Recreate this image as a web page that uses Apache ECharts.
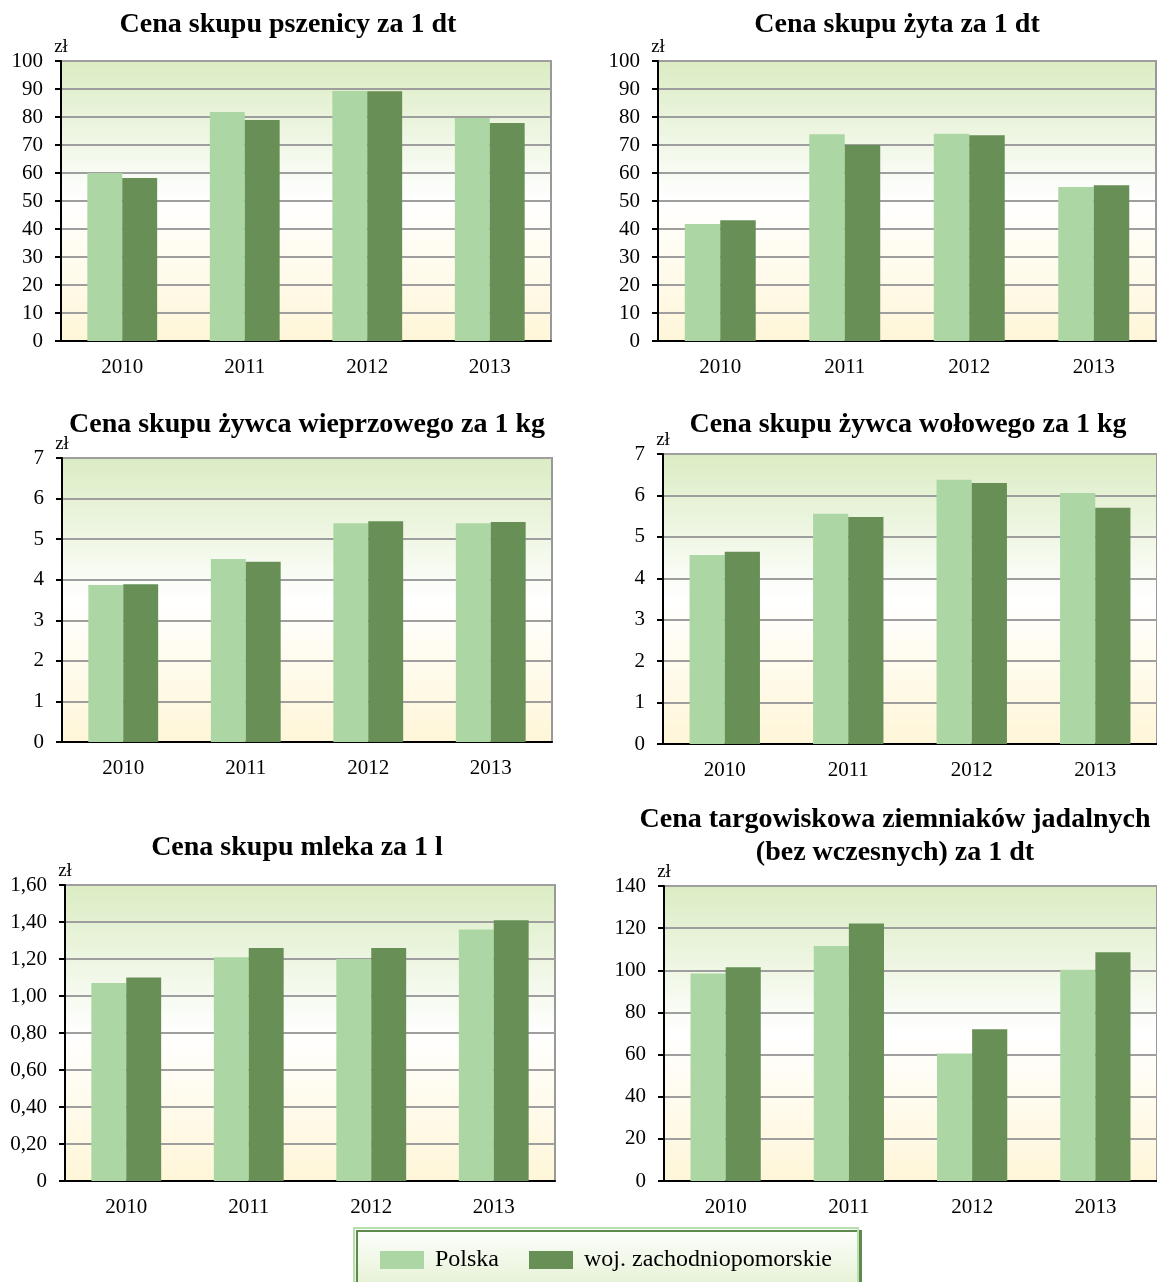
<!DOCTYPE html>
<html>
<head>
<meta charset="utf-8">
<script src="https://cdn.jsdelivr.net/npm/echarts@6/dist/echarts.min.js"></script>
<style>
  html, body { margin: 0; padding: 0; background: #fff; }
  #main { width: 1157px; height: 1282px; }
</style>
</head>
<body>
<div id="main"></div>
<script>
var years = ['2010', '2011', '2012', '2013'];
var seriesNames = ['Polska', 'woj. zachodniopomorskie'];

var titles = [
  'Cena skupu pszenicy za 1 dt',
  'Cena skupu żyta za 1 dt',
  'Cena skupu żywca wieprzowego za 1 kg',
  'Cena skupu żywca wołowego za 1 kg',
  'Cena skupu mleka za 1 l',
  'Cena targowiskowa ziemniaków jadalnych\n(bez wczesnych) za 1 dt'
];

// Polska / woj. zachodniopomorskie
var pszenicaPL = [60, 81.8, 89.3, 79.6];
var pszenicaZP = [58.2, 78.9, 89.2, 77.9];
var zytoPL = [41.8, 73.8, 74.0, 55.0];
var zytoZP = [43.1, 70.0, 73.5, 55.6];
var wieprzPL = [3.87, 4.51, 5.39, 5.39];
var wieprzZP = [3.89, 4.44, 5.44, 5.42];
var wolPL = [4.56, 5.56, 6.38, 6.06];
var wolZP = [4.64, 5.48, 6.30, 5.70];
var mlekoPL = [1.07, 1.21, 1.20, 1.36];
var mlekoZP = [1.10, 1.26, 1.26, 1.41];
var ziemniakiPL = [98.5, 111.5, 60.5, 100.3];
var ziemniakiZP = [101.5, 122.2, 72.0, 108.6];

var axisMax = [100, 100, 7, 7, 1.6, 140];
var axisStep = [10, 10, 1, 1, 0.2, 20];

var pairs = [
  [pszenicaPL, pszenicaZP], [zytoPL, zytoZP], [wieprzPL, wieprzZP],
  [wolPL, wolZP], [mlekoPL, mlekoZP], [ziemniakiPL, ziemniakiZP]
];

// layout of the six plot areas
var grids = [
  {left: 61, top: 61, width: 490, height: 280},
  {left: 658, top: 61, width: 498, height: 280},
  {left: 62, top: 458, width: 490, height: 284},
  {left: 663, top: 454, width: 494, height: 290},
  {left: 65, top: 885, width: 490, height: 296},
  {left: 664, top: 886, width: 493, height: 295}
];
var titlePos = [
  {left: 283, top: 3}, {left: 892, top: 3},
  {left: 302, top: 403}, {left: 903, top: 403},
  {left: 292, top: 826}, {left: 890, top: 798}
];

var colPL = '#acd7a4';
var colZP = '#678f56';
var font = 'Liberation Serif';

var option = {
  animation: false,
  textStyle: {fontFamily: font},
  title: [], grid: [], xAxis: [], yAxis: [], series: [],
  legend: {
    data: seriesNames,
    left: 375, top: 1243,
    itemWidth: 44, itemHeight: 18, itemGap: 30,
    textStyle: {fontFamily: font, fontSize: 24, color: '#000', padding: [0, 0, 0, 6]},
    icon: 'rect'
  },
  graphic: [{
    type: 'rect',
    shape: {x: 354, y: 1228, width: 504, height: 56},
    style: {
      fill: new echarts.graphic.LinearGradient(0, 0, 0, 1, [
        {offset: 0, color: '#ffffff'}, {offset: 1, color: '#e6f2d6'}
      ]),
      stroke: '#b7dfb0', lineWidth: 2,
      shadowColor: '#5e8a4e', shadowOffsetX: 3, shadowOffsetY: 3, shadowBlur: 0
    },
    z: -1
  }]
};

for (var i = 0; i < 6; i++) {
  var g = grids[i];
  option.title.push({
    text: titles[i],
    left: titlePos[i].left, top: titlePos[i].top,
    textAlign: 'center',
    textStyle: {fontFamily: font, fontSize: 28, fontWeight: 'bold', color: '#000', lineHeight: 33}
  });
  option.grid.push({
    left: g.left, top: g.top, width: g.width, height: g.height,
    show: true,
    borderColor: '#999', borderWidth: 2,
    backgroundColor: new echarts.graphic.LinearGradient(0, 0, 0, 1, [
      {offset: 0, color: '#dbecc3'},
      {offset: 0.5, color: '#ffffff'},
      {offset: 1, color: '#fff6d8'}
    ])
  });
  option.xAxis.push({
    type: 'category', gridIndex: i, data: years,
    axisLine: {lineStyle: {color: '#000', width: 2}},
    axisTick: {show: false},
    axisLabel: {color: '#000', fontSize: 21, fontFamily: font, margin: 16}
  });
  var isMilk = i === 4;
  option.yAxis.push({
    type: 'value', gridIndex: i, min: 0, max: axisMax[i], interval: axisStep[i],
    name: 'zł', nameGap: 4,
    nameTextStyle: {color: '#000', fontSize: 19, fontFamily: font},
    axisLine: {show: true, lineStyle: {color: '#000', width: 2}},
    axisTick: {show: true, length: 6, lineStyle: {color: '#000', width: 2}},
    splitLine: {lineStyle: {color: '#9e9e9e', width: 2}},
    axisLabel: {
      color: '#000', fontSize: 21, fontFamily: font, margin: 18,
      formatter: isMilk ? function (v) { return v === 0 ? '0' : v.toFixed(2).replace('.', ','); } : null
    }
  });
  option.series.push({
    name: seriesNames[0], type: 'bar', xAxisIndex: i, yAxisIndex: i,
    data: pairs[i][0], itemStyle: {color: colPL},
    barGap: '0%', barCategoryGap: '43%'
  });
  option.series.push({
    name: seriesNames[1], type: 'bar', xAxisIndex: i, yAxisIndex: i,
    data: pairs[i][1], itemStyle: {color: colZP},
    barGap: '0%', barCategoryGap: '43%'
  });
}

var chart = echarts.init(document.getElementById('main'));
chart.setOption(option);
</script>
</body>
</html>
